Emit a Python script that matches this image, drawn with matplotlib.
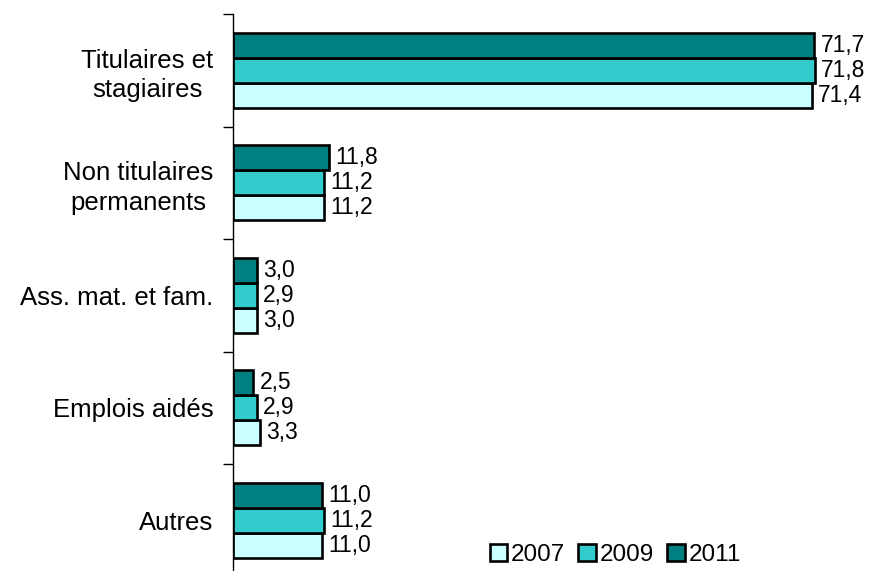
import matplotlib
matplotlib.use("Agg")
import matplotlib.pyplot as plt
from matplotlib.patches import Patch
import numpy as np

plt.rcParams['font.family'] = ['Liberation Sans', 'DejaVu Sans']

categories = ["Titulaires et\nstagiaires", "Non titulaires\npermanents",
              "Ass. mat. et fam.", "Emplois aidés", "Autres"]
years = ["2007", "2009", "2011"]
values_2007 = [71.4, 11.2, 3.0, 3.3, 11.0]
values_2009 = [71.8, 11.2, 2.9, 2.9, 11.2]
values_2011 = [71.7, 11.8, 3.0, 2.5, 11.0]
colors = ["#CCFFFF", "#33CCCC", "#008080"]

series = [values_2007, values_2009, values_2011]

fig = plt.figure(figsize=(8.7, 5.71), dpi=100)
ax = fig.add_axes([233 / 870, 1 - 576.5 / 571, 1 - 233 / 870, 562.5 / 571])

y = np.arange(len(categories))
bar_h = 0.222
# 2007 at the bottom of each group, 2011 at the top
offsets = [bar_h, 0.0, -bar_h]

for vals, col, off in zip(series, colors, offsets):
    bars = ax.barh(y + off, vals, height=bar_h, color=col,
                   edgecolor="black", linewidth=1.9)
    for rect, v in zip(bars, vals):
        ax.annotate(f"{v:.1f}".replace(".", ","),
                    xy=(rect.get_width(), rect.get_y() + rect.get_height() / 2),
                    xytext=(4.5, 0), textcoords="offset points",
                    ha="left", va="center", fontsize=16.5)

ax.set_ylim(len(categories) - 0.5, -0.5)
ax.set_xlim(0, 637 / 8.106)

ax.set_yticks(y)
ax.set_yticklabels(categories, fontsize=18.5, ha="right",
                   multialignment="center", linespacing=1.3)
ax.tick_params(axis="y", which="major", length=0, pad=14)
ax.set_yticks(np.arange(-0.5, len(categories), 1.0), minor=True)
ax.tick_params(axis="y", which="minor", length=7, width=1, color="black")

ax.set_xticks([])
for side in ["top", "right", "bottom"]:
    ax.spines[side].set_visible(False)
ax.spines["left"].set_linewidth(1)

handles = [Patch(facecolor=c, edgecolor="black", linewidth=1.9, label=yr)
           for c, yr in zip(colors, years)]
fig.legend(handles=handles, loc="lower left", ncol=3, frameon=False,
           bbox_to_anchor=(475 / 870, -0.017), fontsize=17.5,
           handlelength=0.72, handleheight=0.72, handletextpad=0.15,
           columnspacing=0.55, borderaxespad=0.2)

fig.savefig("out.png", dpi=100)
